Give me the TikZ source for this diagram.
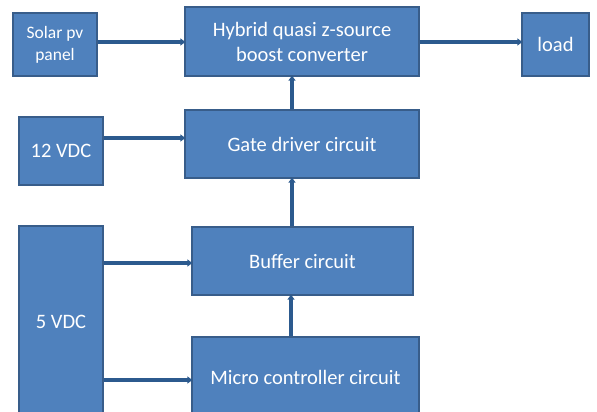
\documentclass[tikz,border=0pt]{standalone}
\usepackage{fontspec}
\setmainfont{Carlito}
\usetikzlibrary{arrows.meta}
\definecolor{boxfill}{HTML}{4F81BD}
\definecolor{boxline}{HTML}{385D8A}
\definecolor{wire}{HTML}{2C5A8E}
\begin{document}
\begin{tikzpicture}[x=1pt,y=-1pt,
  blk/.style={draw=boxline,line width=1.2pt,fill=boxfill,text=white,font=\fontsize{20.5}{25}\selectfont,align=center,inner sep=0pt},
  wr/.style={draw=wire,line width=3.2pt,-{Triangle[length=5pt,width=7pt]},shorten >=-1pt}]
\useasboundingbox (0,0) rectangle (597,412);
\clip (0,0) rectangle (597,412);
\node[blk,font=\fontsize{17.5}{22}\selectfont,minimum width=84pt,minimum height=63pt] (solar) at (55,44.5) {Solar pv\\panel};
\node[blk,minimum width=234pt,minimum height=69pt] (hyb) at (302,41.5) {Hybrid quasi z-source\\boost converter};
\node[blk,minimum width=67pt,minimum height=63pt] (load) at (555.5,44.5) {load};
\node[blk,minimum width=84pt,minimum height=68pt] (v12) at (61,151) {12 VDC};
\node[blk,minimum width=234pt,minimum height=68pt] (gate) at (302,144) {Gate driver circuit};
\node[blk,minimum width=84pt,minimum height=192pt] (v5) at (61,322) {5 VDC};
\node[blk,minimum width=221pt,minimum height=68pt] (buf) at (302.5,261) {Buffer circuit};
\node[blk,minimum width=227pt,minimum height=80pt] (mc) at (305.5,377) {\raisebox{0pt}{Micro controller circuit}};
\draw[wr] (solar.east |- 0,42) -- (hyb.west |- 0,42);
\draw[wr] (hyb.east |- 0,42) -- (load.west |- 0,42);
\draw[wr] (v12.east |- 0,138) -- (gate.west |- 0,138);
\draw[wr] (gate.north -| 292,0) -- (hyb.south -| 292,0);
\draw[wr] (buf.north -| 292,0) -- (gate.south -| 292,0);
\draw[wr] (mc.north -| 291,0) -- (buf.south -| 291,0);
\draw[wr] (v5.east |- 0,263) -- (buf.west |- 0,263);
\draw[wr] (v5.east |- 0,380) -- (mc.west |- 0,380);
\end{tikzpicture}
\end{document}
